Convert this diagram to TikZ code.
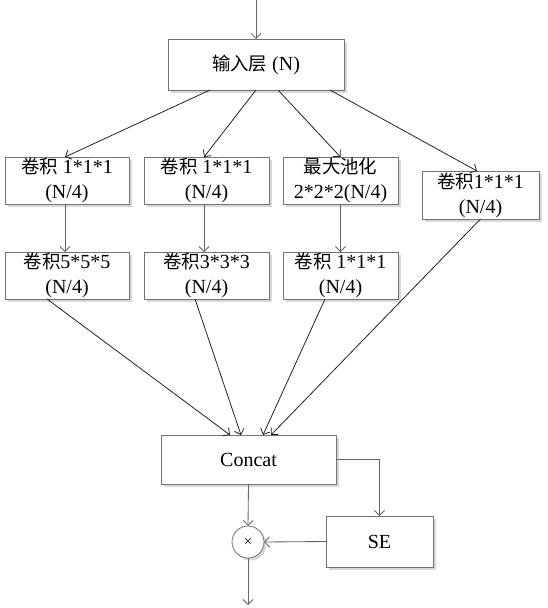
\documentclass[tikz,border=0pt]{standalone}
\usepackage{fontspec}
\setmainfont{Liberation Serif}
\newfontfamily\cjk[Scale=0.92]{Noto Sans CJK SC}
\usetikzlibrary{arrows.meta,shadows,calc}
\begin{document}
\begin{tikzpicture}[x=1pt,y=-1pt,
  every node/.style={inner sep=0pt,outer sep=0pt},
  box/.style={draw=black!55,fill=white,line width=0.8pt,rectangle,align=center,
    font=\fontsize{20}{25}\selectfont,
    drop shadow={shadow xshift=2.5pt,shadow yshift=-2.5pt,fill=black!30,opacity=0.5}},
  arr/.style={draw=black!90,line width=0.75pt,-{Straight Barb[length=5pt,width=10pt]}},
  garr/.style={draw=black!60,line width=0.85pt,-{Straight Barb[length=5pt,width=10pt]}}]
\useasboundingbox[fill=white] (0,0) rectangle (548,608);

\node[box,minimum width=176pt,minimum height=51pt] (in) at (256,64.5) {{\cjk 输入层} (N)};

\node[box,minimum width=124pt,minimum height=47pt] (b1) at (67,180.5) {{\cjk 卷积} 1*1*1\\(N/4)};
\node[box,minimum width=125pt,minimum height=47pt] (b2) at (206.5,180.5) {{\cjk 卷积} 1*1*1\\(N/4)};
\node[box,minimum width=115pt,minimum height=47pt] (b3) at (340.5,180.5) {{\cjk 最大池化}\\2*2*2(N/4)};
\node[box,minimum width=117pt,minimum height=48pt] (b4) at (480.5,195) {{\cjk 卷积}1*1*1\\(N/4)};

\node[box,minimum width=124pt,minimum height=47pt] (b5) at (67,275.5) {{\cjk 卷积}5*5*5\\(N/4)};
\node[box,minimum width=125pt,minimum height=47pt] (b6) at (206.5,275.5) {{\cjk 卷积}3*3*3\\(N/4)};
\node[box,minimum width=115pt,minimum height=47pt] (b7) at (340.5,275.5) {{\cjk 卷积} 1*1*1\\(N/4)};

\node[box,minimum width=175pt,minimum height=49pt] (cc) at (248.5,459.5) {Concat};
\node[box,minimum width=107pt,minimum height=51pt] (se) at (379.5,541.5) {SE};
\node[box,circle,minimum size=32pt,font=\fontsize{15}{15}\selectfont] (mul) at (248,542) {×};

\coordinate (top) at (256,0);
\coordinate (bot) at (248,605);

\draw[garr] (top) -- (in.north);
\draw[arr] ([xshift=-46pt]in.south) -- ([xshift=-2pt]b1.north);
\draw[arr] ([xshift=0pt]in.south) -- ([xshift=-2.5pt]b2.north);
\draw[arr] ([xshift=22pt]in.south) -- ([xshift=0pt]b3.north);
\draw[arr] ([xshift=74pt]in.south) -- ([xshift=-3.5pt]b4.north);

\draw[garr] ([xshift=-2pt]b1.south) -- ([xshift=-2pt]b5.north);
\draw[garr] ([xshift=-2.5pt]b2.south) -- ([xshift=-2.5pt]b6.north);
\draw[garr] ([xshift=0pt]b3.south) -- ([xshift=0pt]b7.north);

\draw[arr] ([xshift=-20pt]b5.south) -- ([xshift=-18.5pt]cc.north);
\draw[arr] ([xshift=-11.5pt]b6.south) -- ([xshift=-7.5pt]cc.north);
\draw[arr] ([xshift=-15.5pt]b7.south) -- ([xshift=14.5pt]cc.north);
\draw[arr] ([xshift=0pt]b4.south) -- ([xshift=22.5pt]cc.north);

\draw[garr] (cc.east) -| (se.north);
\draw[garr] (cc.south) -- (mul.north);
\draw[garr] (se.west) -- (mul.east);
\draw[garr] (mul.south) -- (bot);
\end{tikzpicture}
\end{document}
